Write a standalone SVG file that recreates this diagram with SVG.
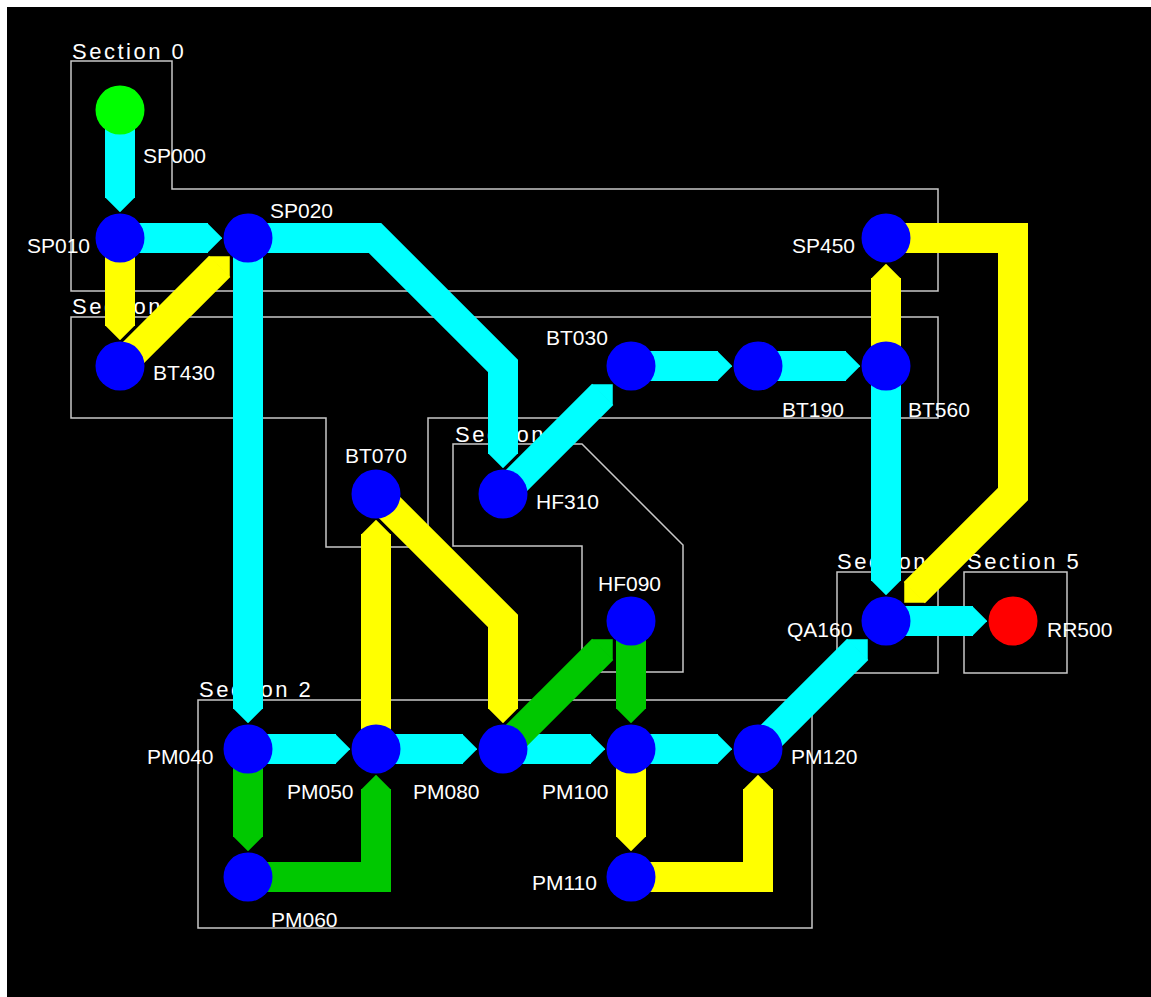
<svg xmlns="http://www.w3.org/2000/svg" width="1151" height="997" viewBox="0 0 1151 997">
<style>
.sec{fill:none;stroke:#c8c8c8;stroke-width:1.5}
.slab{font-family:"Liberation Sans",Arial,sans-serif;font-size:22px;letter-spacing:2.5px;fill:#ffffff}
.lab{font-family:"Liberation Sans",Arial,sans-serif;font-size:21px;fill:#ffffff}
.c{fill:none;stroke-width:30;stroke-linejoin:miter;stroke-linecap:butt}
.cy{stroke:#00ffff;marker-end:url(#arrC)}
.ye{stroke:#ffff00;marker-end:url(#arrY)}
.gr{stroke:#00c800;marker-end:url(#arrG)}
.n{fill:#0000ff}
</style>
<defs>
<marker id="arrC" viewBox="0 -1 1 2" markerWidth="0.5" markerHeight="1" refX="0.05" refY="0" orient="auto" markerUnits="strokeWidth"><path d="M0,-1 L1,0 L0,1 Z" fill="#00ffff"/></marker>
<marker id="arrY" viewBox="0 -1 1 2" markerWidth="0.5" markerHeight="1" refX="0.05" refY="0" orient="auto" markerUnits="strokeWidth"><path d="M0,-1 L1,0 L0,1 Z" fill="#ffff00"/></marker>
<marker id="arrG" viewBox="0 -1 1 2" markerWidth="0.5" markerHeight="1" refX="0.05" refY="0" orient="auto" markerUnits="strokeWidth"><path d="M0,-1 L1,0 L0,1 Z" fill="#00c800"/></marker>
</defs>
<rect x="0" y="0" width="1151" height="997" fill="#ffffff"/>
<rect x="7" y="7" width="1144" height="990" fill="#000000"/>

<g id="sections">
<g id="section-0">
<polygon class="sec" points="71,61 172,61 172,189 938,189 938,291 71,291"/>
<text class="slab" x="72" y="59">Section 0</text>
</g>
<g id="section-1">
<polygon class="sec" points="71,317 938,317 938,418 428,418 428,547 326,547 326,418 71,418"/>
<text class="slab" x="72" y="314">Section 1</text>
</g>
<g id="section-2">
<rect class="sec" x="198" y="700" width="614" height="228"/>
<text class="slab" x="199" y="697">Section 2</text>
</g>
<g id="section-3">
<polygon class="sec" points="453,444 582,444 683,545 683,672 582,672 582,546 453,546"/>
<text class="slab" x="455" y="442">Section 3</text>
</g>
<g id="section-4">
<rect class="sec" x="837" y="572" width="101" height="101"/>
<text class="slab" x="837" y="569">Section 4</text>
</g>
<g id="section-5">
<rect class="sec" x="964" y="572" width="103" height="101"/>
<text class="slab" x="967" y="569">Section 5</text>
</g>
</g>

<g id="connectors">
<path class="c cy" d="M120,110 L120,198"/>
<path class="c cy" d="M120,238 L208,238"/>
<path class="c cy" d="M248,238 L248,709"/>
<path class="c cy" d="M248,238 L375,238 L503,366 L503,454"/>
<path class="c cy" d="M503,494 L602.7,394.3"/>
<path class="c cy" d="M631,366 L718,366"/>
<path class="c cy" d="M758,366 L846,366"/>
<path class="c cy" d="M886,366 L886,581"/>
<path class="c cy" d="M886,621 L973,621"/>
<path class="c cy" d="M758,749 L857.7,649.3"/>
<path class="c cy" d="M248,749 L336,749"/>
<path class="c cy" d="M376,749 L463,749"/>
<path class="c cy" d="M503,749 L591,749"/>
<path class="c cy" d="M631,749 L718,749"/>
<path class="c ye" d="M120,238 L120,326"/>
<path class="c ye" d="M120,366 L219.7,266.3"/>
<path class="c ye" d="M886,366 L886,278"/>
<path class="c ye" d="M886,238 L1013,238 L1013,494 L914.3,592.7"/>
<path class="c ye" d="M376,494 L503,621 L503,709"/>
<path class="c ye" d="M376,749 L376,534"/>
<path class="c ye" d="M631,749 L631,837"/>
<path class="c ye" d="M631,877 L758,877 L758,789"/>
<path class="c gr" d="M248,749 L248,837"/>
<path class="c gr" d="M248,877 L376,877 L376,789"/>
<path class="c gr" d="M503,749 L602.7,649.3"/>
<path class="c gr" d="M631,621 L631,709"/>
</g>

<g id="nodes">
<g id="node-SP000"><circle cx="120" cy="110" r="24.5" fill="#00ff00"/><text class="lab" x="143" y="163">SP000</text></g>
<g id="node-SP010"><circle class="n" cx="120" cy="238" r="24.5"/><text class="lab" x="27" y="253">SP010</text></g>
<g id="node-SP020"><circle class="n" cx="248" cy="238" r="24.5"/><text class="lab" x="270" y="218">SP020</text></g>
<g id="node-BT430"><circle class="n" cx="120" cy="366" r="24.5"/><text class="lab" x="153" y="380">BT430</text></g>
<g id="node-SP450"><circle class="n" cx="886" cy="238" r="24.5"/><text class="lab" x="792" y="253">SP450</text></g>
<g id="node-BT030"><circle class="n" cx="631" cy="366" r="24.5"/><text class="lab" x="546" y="345">BT030</text></g>
<g id="node-BT190"><circle class="n" cx="758" cy="366" r="24.5"/><text class="lab" x="782" y="417">BT190</text></g>
<g id="node-BT560"><circle class="n" cx="886" cy="366" r="24.5"/><text class="lab" x="908" y="417">BT560</text></g>
<g id="node-HF310"><circle class="n" cx="503" cy="494" r="24.5"/><text class="lab" x="536" y="509">HF310</text></g>
<g id="node-BT070"><circle class="n" cx="376" cy="494" r="24.5"/><text class="lab" x="345" y="463">BT070</text></g>
<g id="node-HF090"><circle class="n" cx="631" cy="621" r="24.5"/><text class="lab" x="598" y="591">HF090</text></g>
<g id="node-QA160"><circle class="n" cx="886" cy="621" r="24.5"/><text class="lab" x="787" y="637">QA160</text></g>
<g id="node-RR500"><circle cx="1013" cy="621" r="24.5" fill="#ff0000"/><text class="lab" x="1047" y="637">RR500</text></g>
<g id="node-PM040"><circle class="n" cx="248" cy="749" r="24.5"/><text class="lab" x="147" y="764">PM040</text></g>
<g id="node-PM050"><circle class="n" cx="376" cy="749" r="24.5"/><text class="lab" x="287" y="799">PM050</text></g>
<g id="node-PM080"><circle class="n" cx="503" cy="749" r="24.5"/><text class="lab" x="413" y="799">PM080</text></g>
<g id="node-PM100"><circle class="n" cx="631" cy="749" r="24.5"/><text class="lab" x="542" y="799">PM100</text></g>
<g id="node-PM120"><circle class="n" cx="758" cy="749" r="24.5"/><text class="lab" x="791" y="764">PM120</text></g>
<g id="node-PM060"><circle class="n" cx="248" cy="877" r="24.5"/><text class="lab" x="271" y="927">PM060</text></g>
<g id="node-PM110"><circle class="n" cx="631" cy="877" r="24.5"/><text class="lab" x="532" y="890">PM110</text></g>
</g>
</svg>
